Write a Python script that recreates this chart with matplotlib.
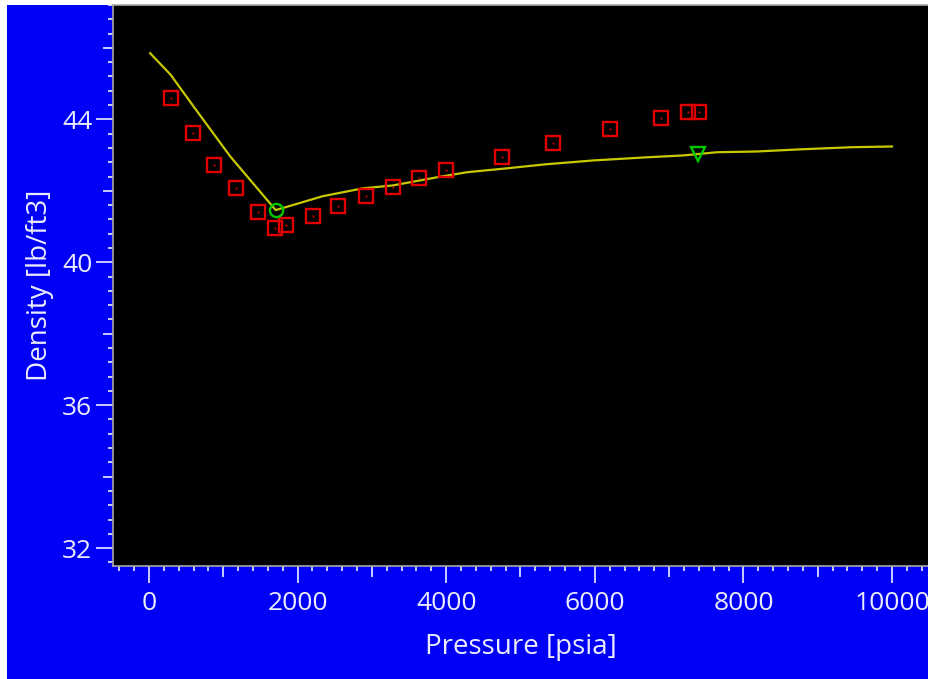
import numpy as np
import matplotlib
matplotlib.use("Agg")
import matplotlib.pyplot as plt
from matplotlib.patches import Rectangle
from matplotlib.ticker import MultipleLocator, FixedLocator, NullFormatter

plt.rcParams["font.family"] = ["Open Sans", "DejaVu Sans"]

# Calculated density curve (bubble point at ~1705 psia)
calc_p = [15, 290, 596, 1090, 1705, 2340, 2880, 3280, 3880, 4280, 4820, 5330,
          5980, 6720, 7190, 7650, 8180, 8760, 9460, 10000]
calc_rho = [45.85, 45.25, 44.37, 42.97, 41.46, 41.85, 42.07, 42.15, 42.38, 42.52,
            42.63, 42.74, 42.85, 42.94, 42.99, 43.08, 43.10, 43.16, 43.22, 43.24]

# Measured density
meas_p = [296, 588, 879, 1171, 1463, 1696, 1844, 2203, 2548, 2920,
          3288, 3638, 3993, 4747, 5433, 6205, 6891, 7259, 7407]
meas_rho = [44.60, 43.61, 42.73, 42.07, 41.41, 40.96, 41.03, 41.30, 41.57, 41.85,
            42.12, 42.35, 42.57, 42.95, 43.33, 43.72, 44.05, 44.21, 44.21]

# Saturation point and reservoir condition
sat_p, sat_rho = [1705], [41.46]
res_p, res_rho = [7390], [43.02]

BLUE = "#0000f6"
TXT = "#ececff"

fig = plt.figure(figsize=(9.32, 6.79), dpi=100, facecolor="white")
fig.patches.append(Rectangle((7 / 932, 0), 921 / 932, 674 / 679,
                             transform=fig.transFigure, facecolor=BLUE,
                             edgecolor="none", zorder=-10))

ax = fig.add_axes([113 / 932, 1 - 566 / 679, 815 / 932, 561 / 679])
ax.set_facecolor("black")

ax.plot(calc_p, calc_rho, color="#c8c800", lw=1.6, zorder=2)
ax.plot(meas_p, meas_rho, ls="none", marker="s", ms=9.5, mfc="none",
        mec="#e00000", mew=1.7, zorder=3)
ax.plot(meas_p, meas_rho, ls="none", marker="s", ms=1.6, mfc="#c00000",
        mec="none", zorder=3)
ax.plot(sat_p, sat_rho, ls="none", marker="o", ms=9.5, mfc="none",
        mec="#00c800", mew=1.7, zorder=4)
ax.plot(res_p, res_rho, ls="none", marker="v", ms=9.5, mfc="none",
        mec="#00c800", mew=1.7, zorder=4)

ax.set_xlim(-485, 10485)
ax.set_ylim(31.5, 47.2)

ax.xaxis.set_major_locator(MultipleLocator(2000))
ax.yaxis.set_major_locator(MultipleLocator(4))
ax.xaxis.set_minor_locator(FixedLocator(
    [v for v in range(-400, 10500, 200) if v % 1000 != 0]))
ax.yaxis.set_minor_locator(FixedLocator(
    [round(v, 1) for v in np.arange(31.6, 47.3, 0.4) if abs(v / 2 - round(v / 2)) > 0.01]))

ax.tick_params(axis="both", which="major", direction="out", length=12,
               width=1.2, color=TXT, labelcolor=TXT, labelsize=19)
ax.tick_params(axis="both", which="minor", direction="out", length=3.5,
               width=1.2, color=TXT)
ax.tick_params(axis="x", which="major", pad=6)
ax.tick_params(axis="y", which="major", pad=3)

# medium ticks halfway between major ticks
secx = ax.secondary_xaxis("bottom")
secx.xaxis.set_major_locator(FixedLocator([1000, 3000, 5000, 7000, 9000]))
secx.xaxis.set_major_formatter(NullFormatter())
secx.tick_params(length=8, width=1.2, color=TXT)
secx.spines["bottom"].set_visible(False)
secy = ax.secondary_yaxis("left")
secy.yaxis.set_major_locator(FixedLocator([34, 38, 42, 46]))
secy.yaxis.set_major_formatter(NullFormatter())
secy.tick_params(length=7, width=1.2, color=TXT)
secy.spines["left"].set_visible(False)

for side in ("left", "bottom", "top"):
    ax.spines[side].set_color("#a8a8a8")
    ax.spines[side].set_linewidth(1.2)
ax.spines["right"].set_visible(False)

ax.set_xlabel("Pressure [psia]", color=TXT, fontsize=20, labelpad=12)
ax.set_ylabel("Density [lb/ft3]", color=TXT, fontsize=20, labelpad=6)

# white margin on the right cuts off the last tick label
fig.add_artist(Rectangle((928 / 932, 0), 4 / 932, 1, transform=fig.transFigure,
                         facecolor="white", edgecolor="none", zorder=20))

fig.savefig("out.png", dpi=100, facecolor="white")
